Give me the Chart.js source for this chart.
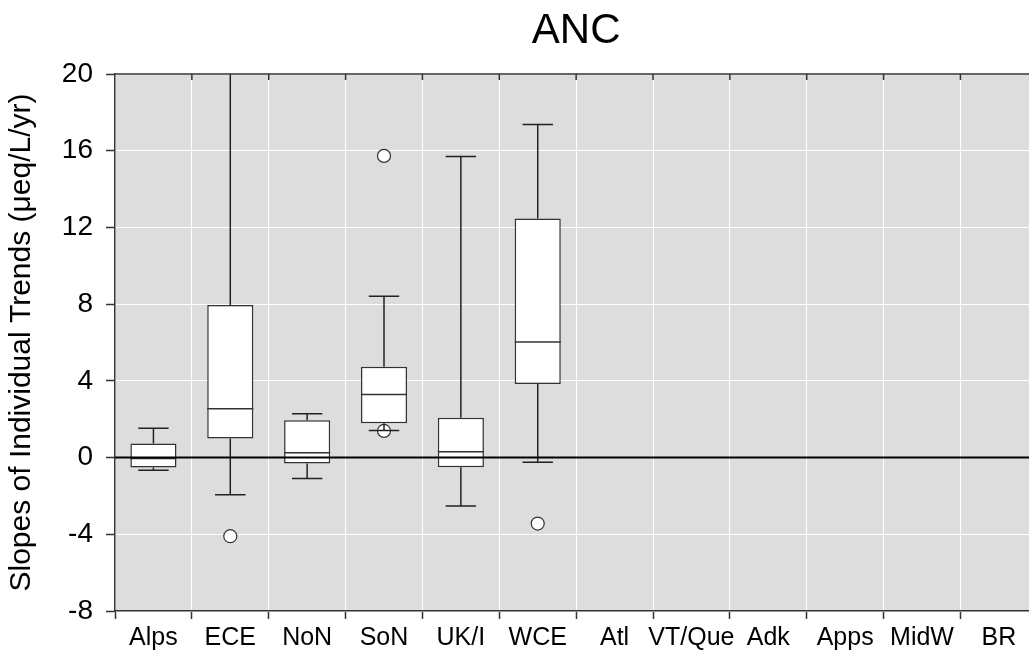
<!DOCTYPE html>
<html>
<head>
<meta charset="utf-8">
<title>ANC</title>
<script src="https://cdn.jsdelivr.net/npm/chart.js@4/dist/chart.umd.min.js"></script>
<style>
  html, body { margin: 0; padding: 0; background: #fff; overflow: hidden; }
  #wrap { position: relative; width: 1045px; height: 652px; }
</style>
</head>
<body>
<div id="wrap"><canvas id="chart"></canvas></div>
<script>
const categories = ["Alps", "ECE", "NoN", "SoN", "UK/I", "WCE", "Atl", "VT/Que", "Adk", "Apps", "MidW", "BR"];
const q1 = [-0.52, 1.0, -0.31, 1.79, -0.5, 3.83, null, null, null, null, null, null];
const medians = [-0.05, 2.54, 0.25, 3.29, 0.3, 6.02, null, null, null, null, null, null];
const q3 = [0.74, 7.95, 1.95, 4.73, 2.07, 12.47, null, null, null, null, null, null];
const whiskerLow = [-0.66, -1.94, -1.09, 1.41, -2.53, -0.24, null, null, null, null, null, null];
const whiskerHigh = [1.53, 21.5, 2.28, 8.41, 15.7, 17.37, null, null, null, null, null, null];
const outliers = [[], [-4.1], [], [1.39, 15.73], [], [-3.44], [], [], [], [], [], []];
const yTicks = [-8, -4, 0, 4, 8, 12, 16, 20];

const font = '"Liberation Sans", Arial, sans-serif';
const ink = "#333";

const outlierPoints = [];
categories.forEach((c, i) => outliers[i].forEach((v) => outlierPoints.push({ x: c, y: v })));

const boxPlugin = {
  id: "boxParts",
  beforeDraw(chart) {
    const { ctx, chartArea: a } = chart;
    ctx.save();
    ctx.fillStyle = "#dddddd";
    ctx.fillRect(a.left, a.top, a.right - a.left, a.bottom - a.top);
    ctx.restore();
  },
  afterDatasetsDraw(chart) {
    const { ctx, chartArea: a } = chart;
    const x = chart.scales.x;
    const y = chart.scales.y;
    const bars = chart.getDatasetMeta(0).data;
    ctx.save();
    ctx.beginPath();
    ctx.rect(a.left, a.top, a.right - a.left, a.bottom - a.top);
    ctx.clip();
    ctx.lineWidth = 1.5;
    categories.forEach((c, i) => {
      if (q1[i] === null) return;
      const cx = x.getPixelForValue(i);
      const bw = bars[i].width;
      const cap = bw * 0.33;
      ctx.strokeStyle = "#222";
      ctx.beginPath();
      ctx.moveTo(cx, y.getPixelForValue(q3[i]));
      ctx.lineTo(cx, y.getPixelForValue(whiskerHigh[i]));
      ctx.moveTo(cx, y.getPixelForValue(q1[i]));
      ctx.lineTo(cx, y.getPixelForValue(whiskerLow[i]));
      ctx.moveTo(cx - cap, y.getPixelForValue(whiskerHigh[i]));
      ctx.lineTo(cx + cap, y.getPixelForValue(whiskerHigh[i]));
      ctx.moveTo(cx - cap, y.getPixelForValue(whiskerLow[i]));
      ctx.lineTo(cx + cap, y.getPixelForValue(whiskerLow[i]));
      ctx.stroke();
      ctx.strokeStyle = ink;
      ctx.beginPath();
      ctx.moveTo(cx - bw / 2, y.getPixelForValue(medians[i]));
      ctx.lineTo(cx + bw / 2, y.getPixelForValue(medians[i]));
      ctx.stroke();
    });
    // zero line
    const y0 = y.getPixelForValue(0);
    ctx.beginPath();
    ctx.strokeStyle = "#000";
    ctx.lineWidth = 2;
    ctx.moveTo(a.left, y0);
    ctx.lineTo(a.right, y0);
    ctx.stroke();
    ctx.restore();

    // top frame with inward ticks
    ctx.save();
    ctx.strokeStyle = ink;
    ctx.lineWidth = 1.5;
    ctx.beginPath();
    ctx.moveTo(a.left, a.top);
    ctx.lineTo(a.right, a.top);
    for (let i = 1; i < categories.length; i++) {
      const bx = (x.getPixelForValue(i - 1) + x.getPixelForValue(i)) / 2;
      ctx.moveTo(bx, a.top);
      ctx.lineTo(bx, a.top + 6);
    }
    ctx.stroke();
    ctx.restore();
  },
};

new Chart(document.getElementById("chart"), {
  type: "bar",
  data: {
    labels: categories,
    datasets: [
      {
        data: categories.map((c, i) => (q1[i] === null ? null : [q1[i], q3[i]])),
        backgroundColor: "#ffffff",
        borderColor: ink,
        borderWidth: 1.5,
        borderSkipped: false,
        barPercentage: 0.6,
        categoryPercentage: 1,
        order: 1,
      },
      {
        type: "scatter",
        data: outlierPoints,
        pointRadius: 6.5,
        pointBackgroundColor: "#ffffff",
        pointBorderColor: ink,
        pointBorderWidth: 1.2,
        order: 2,
      },
    ],
  },
  options: {
    responsive: true,
    maintainAspectRatio: false,
    animation: false,
    devicePixelRatio: 1,
    // canvas is wider than the window: the original plot runs past the right edge
    layout: { padding: 0 },
    plugins: {
      legend: { display: false },
      tooltip: { enabled: false },
      title: {
        display: true,
        text: "ANC",
        fullSize: false,
        color: "#000",
        font: { family: font, size: 42, weight: "normal", lineHeight: 1 },
        padding: { top: 10, bottom: 22 },
      },
    },
    scales: {
      x: {
        type: "category",
        offset: true,
        grid: { offset: true, color: "#ffffff", lineWidth: 1, tickColor: ink, tickLength: 8, tickWidth: 1.5 },
        border: { display: true, color: ink, width: 1.5 },
        ticks: { color: "#000", font: { family: font, size: 25 }, padding: 4, maxRotation: 0, autoSkip: false },
        afterFit(scale) { scale.height = 41; },
      },
      y: {
        min: -8,
        max: 20,
        afterBuildTicks(scale) { scale.ticks = yTicks.map((v) => ({ value: v })); },
        grid: { color: "#ffffff", lineWidth: 1, tickColor: ink, tickLength: 9, tickWidth: 1.5 },
        border: { display: true, color: ink, width: 1.5 },
        ticks: { color: "#000", font: { family: font, size: 28 }, padding: 13 },
        title: {
          display: true,
          text: "Slopes of Individual Trends (μeq/L/yr)",
          color: "#000",
          font: { family: font, size: 30, lineHeight: 1 },
          padding: { top: 7, bottom: 0 },
        },
        afterFit(scale) { scale.width = 115; },
      },
    },
  },
  plugins: [boxPlugin],
});
</script>
</body>
</html>
